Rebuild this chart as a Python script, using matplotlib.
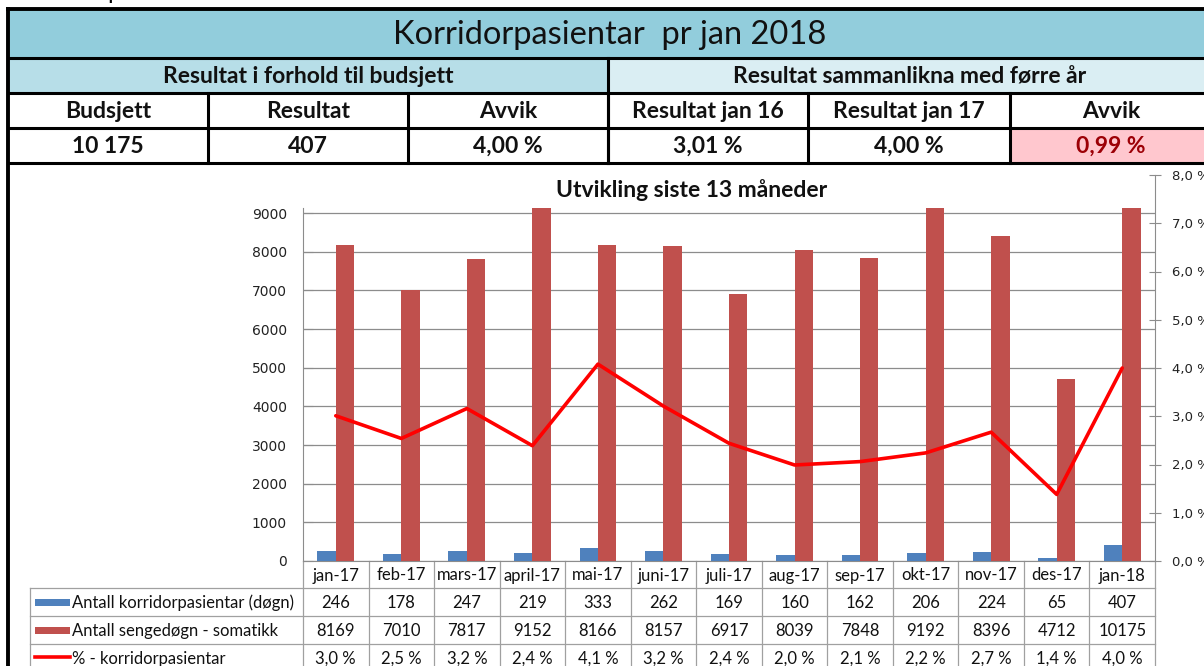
import matplotlib
matplotlib.use("Agg")
import matplotlib.pyplot as plt
from matplotlib.patches import Rectangle
from matplotlib.lines import Line2D
from matplotlib.transforms import blended_transform_factory

plt.rcParams['font.family'] = ['Lato', 'DejaVu Sans']

# ---------------- data ----------------
page_title = "Korridorpasientar"
table_title = "Korridorpasientar  pr jan 2018"
group_headers = ["Resultat i forhold til budsjett", "Resultat sammanlikna med førre år"]
col_headers = ["Budsjett", "Resultat", "Avvik", "Resultat jan 16", "Resultat jan 17", "Avvik"]
col_values = ["10 175", "407", "4,00 %", "3,01 %", "4,00 %", "0,99 %"]

chart_title = "Utvikling siste 13 måneder"
months = ["jan-17", "feb-17", "mars-17", "april-17", "mai-17", "juni-17", "juli-17",
          "aug-17", "sep-17", "okt-17", "nov-17", "des-17", "jan-18"]
korridor = [246, 178, 247, 219, 333, 262, 169, 160, 162, 206, 224, 65, 407]
sengedogn = [8169, 7010, 7817, 9152, 8166, 8157, 6917, 8039, 7848, 9192, 8396, 4712, 10175]
pct = [3.01, 2.54, 3.16, 2.39, 4.08, 3.21, 2.44, 1.99, 2.06, 2.24, 2.67, 1.38, 4.00]
series_names = ["Antall korridorpasientar (døgn)", "Antall sengedøgn - somatikk", "% - korridorpasientar"]
left_ticks = [0, 1000, 2000, 3000, 4000, 5000, 6000, 7000, 8000, 9000]
right_ticks = [0, 1, 2, 3, 4, 5, 6, 7, 8]

# ---------------- style ----------------
BLUE = "#4F81BD"
RED = "#C0504D"
LINE_RED = "#FF0000"
GRID = "#8C8C8C"
TBL = "#A0A0A0"
TXT = "#111111"
W, H = 1204, 666

fig = plt.figure(figsize=(W / 100, H / 100), dpi=100)
bg = fig.add_axes([0, 0, 1, 1])
bg.set_xlim(0, W)
bg.set_ylim(H, 0)
bg.axis('off')

# page title, almost entirely cut off at the top edge
bg.text(22, -1.0, page_title, fontsize=17, ha='left', va='baseline', color='black')

# ---------------- header table ----------------
L, R = 8, 1212
rows_y = [9, 58, 93, 128, 163]
cols_x = [8, 208, 408, 608, 808, 1010, 1212]

bg.add_patch(Rectangle((L, rows_y[0]), R - L, rows_y[1] - rows_y[0], fc="#92CDDC", ec='none'))
bg.add_patch(Rectangle((cols_x[0], rows_y[1]), cols_x[3] - cols_x[0], rows_y[2] - rows_y[1], fc="#B7DEE8", ec='none'))
bg.add_patch(Rectangle((cols_x[3], rows_y[1]), cols_x[6] - cols_x[3], rows_y[2] - rows_y[1], fc="#DAEEF3", ec='none'))
bg.add_patch(Rectangle((cols_x[5], rows_y[3]), cols_x[6] - cols_x[5], rows_y[4] - rows_y[3], fc="#FFC7CE", ec='none'))

lw_t = 2.2
for y in rows_y:
    bg.add_line(Line2D([L, R], [y, y], color='black', lw=2.8 if y == rows_y[0] else lw_t))
bg.add_line(Line2D([cols_x[3], cols_x[3]], [rows_y[1], rows_y[4]], color='black', lw=lw_t))
for x in cols_x[1:-1]:
    bg.add_line(Line2D([x, x], [rows_y[2], rows_y[4]], color='black', lw=lw_t))
bg.add_line(Line2D([L, L], [rows_y[0], H + 5], color='black', lw=2.8))

HFS = 16.5
bg.text((L + R) / 2, (rows_y[0] + rows_y[1]) / 2 + 1, table_title, fontsize=23.5, ha='center', va='center', color=TXT)
bg.text((cols_x[0] + cols_x[3]) / 2, (rows_y[1] + rows_y[2]) / 2 + 1, group_headers[0], fontsize=HFS,
        fontweight='bold', ha='center', va='center', color=TXT)
bg.text((cols_x[3] + cols_x[6]) / 2, (rows_y[1] + rows_y[2]) / 2 + 1, group_headers[1], fontsize=HFS,
        fontweight='bold', ha='center', va='center', color=TXT)
for i in range(6):
    cx = (cols_x[i] + cols_x[i + 1]) / 2
    bg.text(cx, (rows_y[2] + rows_y[3]) / 2 + 1, col_headers[i], fontsize=HFS, fontweight='bold',
            ha='center', va='center', color=TXT)
    bg.text(cx, (rows_y[3] + rows_y[4]) / 2 + 1, col_values[i], fontsize=HFS, fontweight='bold',
            ha='center', va='center', color='#9C0006' if i == 5 else TXT)

# ---------------- chart ----------------
x0, x1 = 303, 1155
y_bottom, y_top_left, y_top_right = 561, 208, 175
ax1 = fig.add_axes([x0 / W, 1 - y_bottom / H, (x1 - x0) / W, (y_bottom - y_top_left) / H])
ax2 = fig.add_axes([x0 / W, 1 - y_bottom / H, (x1 - x0) / W, (y_bottom - y_top_right) / H])
for a in (ax1, ax2):
    a.set_xlim(-0.5, len(months) - 0.5)
    a.patch.set_alpha(0)

xs = list(range(len(months)))
bw = 0.28
ax1.bar([x - bw / 2 for x in xs], korridor, width=bw, color=BLUE, zorder=3)
ax1.bar([x + bw / 2 for x in xs], sengedogn, width=bw, color=RED, zorder=3)
ax1.set_ylim(0, 9130)
ax1.set_yticks(left_ticks)
ax1.set_yticklabels([str(v) for v in left_ticks], family='DejaVu Sans', fontsize=10, color='#222222')
ax1.yaxis.grid(True, color=GRID, lw=0.9, zorder=0)
ax1.set_axisbelow(True)
ax1.set_xticks([])
for s in ('top', 'right'):
    ax1.spines[s].set_visible(False)
ax1.spines['left'].set_color(GRID)
ax1.spines['bottom'].set_color(GRID)
ax1.tick_params(axis='y', direction='in', length=7, color=GRID, pad=11.5)

ax2.plot(xs, pct, color=LINE_RED, lw=2.6, zorder=4, solid_capstyle='round', solid_joinstyle='round')
ax2.set_ylim(0, 8)
ax2.yaxis.tick_right()
ax2.set_yticks(right_ticks)
ax2.set_yticklabels([f"{v:.1f} %".replace('.', ',') for v in right_ticks], family='DejaVu Sans',
                    fontsize=9.5, color='#222222')
ax2.set_xticks([])
for s in ('top', 'left', 'bottom'):
    ax2.spines[s].set_visible(False)
ax2.spines['right'].set_color(GRID)
ax2.tick_params(axis='y', direction='inout', length=9, color=GRID, pad=8)

bg.text(692, 190, chart_title, fontsize=16.5, fontweight='bold', ha='center', va='center', color=TXT)

# ---------------- data table ----------------
tr = blended_transform_factory(ax1.transData, bg.transData)
row_y = [561, 588, 616, 644, 672]
n = len(months)
for k in range(n + 1):
    bg.add_line(Line2D([k - 0.5, k - 0.5], [row_y[0], row_y[-1]], color=TBL, lw=0.9, transform=tr, clip_on=False))
for y in row_y[1:]:
    bg.add_line(Line2D([30, x1], [y, y], color=TBL, lw=0.9))
bg.add_line(Line2D([30, 30], [row_y[1], row_y[-1]], color=TBL, lw=0.9))

TFS = 12
for i, m in enumerate(months):
    bg.text(i, (row_y[0] + row_y[1]) / 2 + 1, m, fontsize=TFS, ha='center', va='center', transform=tr, color=TXT)
    bg.text(i, (row_y[1] + row_y[2]) / 2 + 1, str(korridor[i]), fontsize=TFS, ha='center', va='center', transform=tr, color=TXT)
    bg.text(i, (row_y[2] + row_y[3]) / 2 + 1, str(sengedogn[i]), fontsize=TFS, ha='center', va='center', transform=tr, color=TXT)
    bg.text(i, (row_y[3] + row_y[4]) / 2 + 1, f"{pct[i]:.1f} %".replace('.', ','), fontsize=TFS, ha='center',
            va='center', transform=tr, color=TXT)

# legend keys
ky = [(row_y[1] + row_y[2]) / 2, (row_y[2] + row_y[3]) / 2, (row_y[3] + row_y[4]) / 2]
bg.add_patch(Rectangle((35, ky[0] - 3.5), 35, 7, fc=BLUE, ec='none'))
bg.add_patch(Rectangle((35, ky[1] - 3.5), 35, 7, fc=RED, ec='none'))
bg.add_line(Line2D([35, 70], [ky[2] - 1, ky[2] - 1], color=LINE_RED, lw=2.6))
for j in range(3):
    bg.text(72, ky[j] + 1, series_names[j], fontsize=TFS, ha='left', va='center', color=TXT)

fig.savefig("out.png", dpi=100)
